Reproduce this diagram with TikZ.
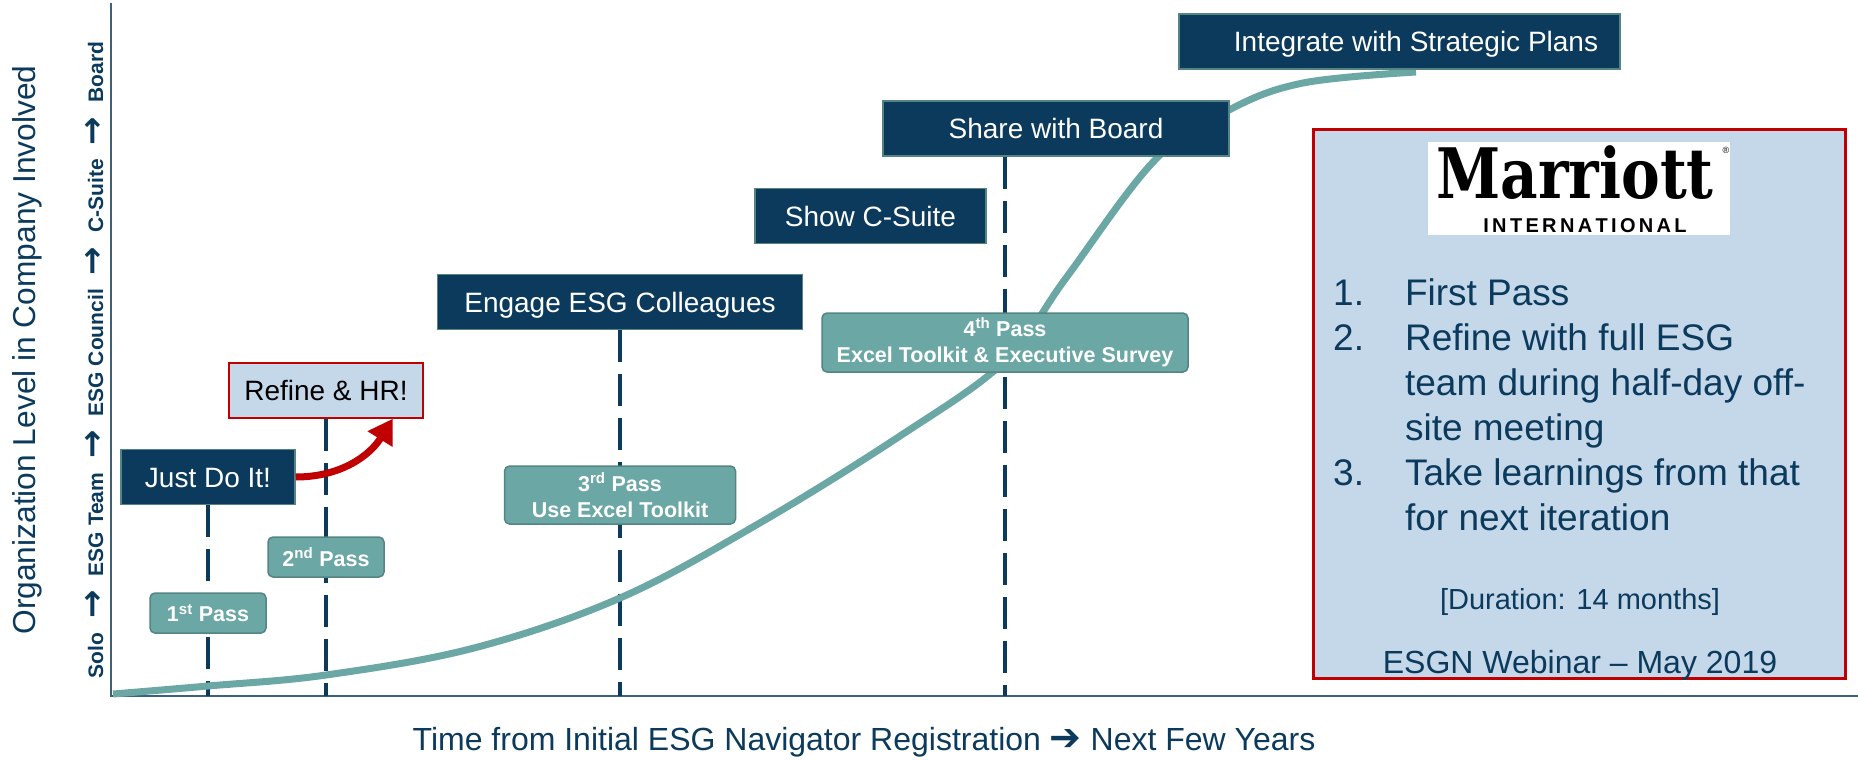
\documentclass[tikz,border=0pt]{standalone}
\usepackage{fontspec}
\setmainfont{Liberation Sans}
\newfontfamily\arrowfont{DejaVu Sans}
\newfontfamily\logofont{DejaVu Serif}
\usetikzlibrary{backgrounds}
\usetikzlibrary{arrows.meta}
\definecolor{navy}{HTML}{0B3A5C}
\definecolor{tealline}{HTML}{6BA7A5}
\definecolor{tealedge}{HTML}{558583}
\definecolor{panelblue}{HTML}{C5D8EA}
\definecolor{alertred}{HTML}{C00000}
\newcommand{\upto}{\hspace{14pt}{\arrowfont\bfseries\fontsize{34}{34}\selectfont →}\hspace{14pt}}
\begin{document}
\begin{tikzpicture}[x=1pt,y=-1pt,
            milestone/.style = {draw=tealedge,fill=navy,text=white,line width=1.5pt,
                inner sep=0pt,minimum height=55pt,text height=20pt,text depth=0pt,
                font=\fontsize{28}{32}\selectfont},
            pass/.style = {draw=tealedge,fill=tealline,text=white,line width=1.5pt,rounded corners=5pt,
                inner sep=0pt,align=center,font=\bfseries\fontsize{21.5}{26}\selectfont},
            stem/.style = {draw=navy,line width=3.5pt,dash pattern=on 32pt off 12pt},
            axis/.style = {draw=navy!80!white,line width=1.5pt}]
            \useasboundingbox (0,0) rectangle (1858,760);
            \coordinate (origin) at (111,696);
            \coordinate (ytop) at (111,3);
            \coordinate (xend) at (1858,696);
            % milestones
            \node[milestone,minimum width=441pt](plans) at (1399.5,41.5) {\hspace*{33pt}Integrate with Strategic Plans};
            \node[milestone,minimum width=346pt](board) at (1056,128.5) {Share with Board};
            \node[milestone,minimum width=231pt](csuite) at (870.5,216) {Show C-Suite};
            \node[milestone,minimum width=365pt](engage) at (620,302) {Engage ESG Colleagues};
            \node[milestone,minimum width=174pt](just) at (208,477) {Just Do It!};
            \node[milestone,minimum width=194pt,draw=alertred,fill=panelblue,text=black](refine) at (326,390.5) {Refine \& HR!};
            % passes
            \node[pass,minimum width=116pt,minimum height=40pt](pass1) at (208,613) {1\textsuperscript{st} Pass};
            \node[pass,minimum width=116pt,minimum height=40pt](pass2) at (326,557) {2\textsuperscript{nd} Pass};
            \node[pass,minimum width=231pt,minimum height=58pt](pass3) at (620,495) {3\textsuperscript{rd} Pass\\Use Excel Toolkit};
            \node[pass,minimum width=366pt,minimum height=59pt](pass4) at (1005,342.5) {4\textsuperscript{th} Pass\\Excel Toolkit \& Executive Survey};
            % under the boxes
            \begin{scope}[on background layer]
                \draw[axis] (ytop) -- (origin) -- (xend);
                \path[stem]
                    (just.south) -- (just.south |- origin)
                    (refine.south) -- (refine.south |- origin)
                    (engage.south) -- (engage.south |- origin)
                    (board.south -| pass4) -- (pass4 |- origin);
                \draw[tealline,line width=7pt] plot[smooth,tension=0.6] coordinates {
                    (113,694) (208,686) (326,675) (474,648) (620,598) (758,524) (900,436)
                    (1005,361) (1066,278) (1155,160) (1229,110) (1303,83) (1416,72)};
            \end{scope}
            \draw[alertred,line width=7pt,-{Triangle[length=24pt,width=28pt]}]
                (just.east) to[out=0,in=-122] ([xshift=-31pt]refine.south east);
            % side panel
            \node[draw=alertred,fill=panelblue,line width=3pt,inner sep=0pt,
                minimum width=532pt,minimum height=549pt](panel) at (1579,403.5) {};
            \node[fill=white,inner sep=0pt,minimum width=302pt,minimum height=93pt](logo) at (1579,188.5) {};
            \node[font=\logofont\bfseries\fontsize{58}{58}\selectfont,inner sep=0pt](brand) at (1575,173)
                {\scalebox{1}[1.2]{Marriott}};
            \node[font=\bfseries\fontsize{20}{20}\selectfont,inner sep=0pt](brandsub) at (1585,226) {I\,N\,T\,E\,R\,N\,A\,T\,I\,O\,N\,A\,L};
            \node[font=\fontsize{9}{9}\selectfont,inner sep=0pt](brandreg) at (1726,150) {®};
            \node[text=navy,anchor=north west,inner sep=0pt,align=left,
                font=\fontsize{37}{45}\selectfont](steps) at (1333,273.5) {%
                \begin{tabular}{@{}l@{\hspace{41pt}}l@{}}
                    1. & First Pass\\
                    2. & Refine with full ESG\\
                       & team during half-day off-\\
                       & site meeting\\
                    3. & Take learnings from that\\
                       & for next iteration
                \end{tabular}};
            \node[text=navy,font=\fontsize{29}{34}\selectfont](duration) at (1580,602) {[Duration: 14 months]};
            \node[text=navy,font=\fontsize{32}{36}\selectfont](webinar) at (1580,665) {ESGN Webinar -- May 2019};
            % axis labels
            \node[text=navy,font=\fontsize{32}{38}\selectfont](xlabel) at (864,742)
                {Time from Initial ESG Navigator Registration {\arrowfont\bfseries\fontsize{38}{38}\selectfont ➔} Next Few Years};
            \node[text=navy,rotate=90,font=\fontsize{31.7}{38}\selectfont](ylabel) at (27,350)
                {Organization Level in Company Involved};
            \node[text=navy,rotate=90,font=\bfseries\fontsize{21}{25}\selectfont](levels) at (94,360)
                {Solo\upto ESG Team\upto ESG Council\upto C-Suite\upto Board};
        \end{tikzpicture}
\end{document}
